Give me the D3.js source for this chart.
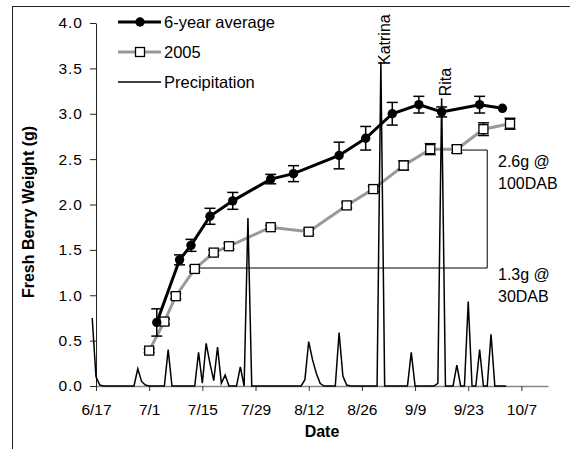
<!DOCTYPE html>
<html>
<head>
<meta charset="utf-8">
<script src="https://cdn.jsdelivr.net/npm/d3@7"></script>
<style>
  body { margin: 0; background: #fff; }
  svg text { font-family: "Liberation Sans", Arial, sans-serif; }
</style>
</head>
<body>
<div id="chart"></div>
<script>
// berry weight, 6-year average (with error bars)
let avgDates = ["2005-07-03","2005-07-09","2005-07-12","2005-07-17","2005-07-23","2005-08-02","2005-08-08",
                "2005-08-20","2005-08-27","2005-09-03","2005-09-10","2005-09-16","2005-09-26","2005-10-02"];
let avgValues = [0.70, 1.39, 1.55, 1.87, 2.04, 2.28, 2.34, 2.54, 2.73, 3.00, 3.10, 3.02, 3.10, 3.06];
let avgErr    = [0.15, 0.055, 0.066, 0.088, 0.093, 0.052, 0.088, 0.147, 0.13, 0.125, 0.092, 0.055, 0.092, 0];

// 2005 season
let y05Dates = ["2005-07-01","2005-07-05","2005-07-08","2005-07-13","2005-07-18","2005-07-22","2005-08-02","2005-08-12",
                "2005-08-22","2005-08-29","2005-09-06","2005-09-13","2005-09-20","2005-09-27","2005-10-04"];
let y05Values = [0.39, 0.71, 0.99, 1.29, 1.47, 1.54, 1.75, 1.70, 1.99, 2.17, 2.43, 2.61, 2.61, 2.83, 2.89];
let y05Err    = [0.02, 0.03, 0.03, 0.03, 0.03, 0.03, 0.02, 0.03, 0.03, 0.03, 0.05, 0.06, 0.04, 0.07, 0.06];

// daily precipitation, one value per day starting 6/16
let precipStart = "2005-06-16";
let precip = [0.75, 0.10, 0.01, 0, 0, 0, 0, 0, 0, 0,
              0, 0, 0.19, 0.05, 0.01, 0, 0, 0, 0, 0,
              0.40, 0, 0, 0, 0, 0, 0, 0, 0.37, 0.03,
              0.47, 0.25, 0.06, 0.43, 0.03, 0.12, 0, 0, 0, 0.21,
              0, 1.85, 0, 0, 0, 0, 0, 0, 0, 0,
              0, 0, 0, 0, 0, 0, 0.07, 0.49, 0.29, 0.14,
              0.03, 0, 0, 0, 0, 0.59, 0.11, 0.01, 0, 0,
              0, 0, 0, 0, 0, 0, 3.57, 0, 0, 0,
              0, 0, 0, 0, 0.37, 0, 0, 0, 0, 0,
              0, 0.03, 3.17, 0, 0, 0, 0.23, 0, 0, 0.93,
              0, 0, 0.40, 0, 0, 0.57, 0, 0, 0, 0];

let stormLabels = [{name: "Katrina", day: 76}, {name: "Rita", day: 92}];

let xTickDates = ["2005-06-17","2005-07-01","2005-07-15","2005-07-29","2005-08-12","2005-08-26","2005-09-09","2005-09-23","2005-10-07"];
let yTicks = [0, 0.5, 1.0, 1.5, 2.0, 2.5, 3.0, 3.5, 4.0];

let width = 570, height = 449;
let margin = ({top: 23, right: 22, bottom: 63, left: 96});

let parse = d3.utcParse("%Y-%m-%d");

let x = d3.scaleUtc()
    .domain([parse("2005-06-17"), parse("2005-10-14")])
    .range([margin.left, width - margin.right]);
let y = d3.scaleLinear()
    .domain([0, 4])
    .range([height - margin.bottom, margin.top]);

let avg = avgDates.map((d, i) => ({date: parse(d), v: avgValues[i], e: avgErr[i]}));
let y05 = y05Dates.map((d, i) => ({date: parse(d), v: y05Values[i], e: y05Err[i]}));
let p0 = parse(precipStart);
let rain = precip.map((v, i) => ({date: d3.utcDay.offset(p0, i), v: v}));

let svg = d3.select("#chart").append("svg")
    .attr("width", width)
    .attr("height", height);

// outer chart frame (cropped)
svg.append("rect")
    .attr("x", 12.5).attr("y", 6.5)
    .attr("width", 620).attr("height", 500)
    .attr("fill", "none").attr("stroke", "#222");

// axes
let xAxis = g => g
    .attr("transform", `translate(0,${y(0)})`)
    .call(d3.axisBottom(x).tickValues(xTickDates.map(parse))
        .tickFormat(d3.utcFormat("%-m/%-d")).tickSize(5).tickSizeOuter(0).tickPadding(13))
    .call(g => g.select(".domain").attr("stroke", "#888").attr("stroke-width", 1.5))
    .call(g => g.selectAll(".tick line").attr("stroke", "#333"))
    .call(g => g.selectAll("text").attr("font-size", 15.5).attr("fill", "#000")
        .style("font-family", "'Liberation Sans', Arial, sans-serif"));

let yAxis = g => g
    .attr("transform", `translate(${margin.left},0)`)
    .call(d3.axisLeft(y).tickValues(yTicks).tickFormat(d3.format(".1f"))
        .tickSize(6).tickSizeOuter(0).tickPadding(7))
    .call(g => g.select(".domain").attr("stroke", "#222"))
    .call(g => g.selectAll(".tick line").attr("stroke", "#222"))
    .call(g => g.selectAll("text").attr("font-size", 15.5).attr("fill", "#000")
        .attr("letter-spacing", 1)
        .style("font-family", "'Liberation Sans', Arial, sans-serif"));

svg.append("g").call(xAxis);
svg.append("g").call(yAxis);

svg.append("text")
    .attr("transform", `translate(${margin.left + (width - margin.right - margin.left) / 2},437)`)
    .attr("text-anchor", "middle")
    .attr("font-size", 16).attr("font-weight", "bold")
    .text("Date");

svg.append("text")
    .attr("transform", `translate(34,212) rotate(-90)`)
    .attr("text-anchor", "middle")
    .attr("font-size", 16).attr("font-weight", "bold")
    .text("Fresh Berry Weight (g)");

let line = d3.line().x(d => x(d.date)).y(d => y(d.v));

function errorBars(data, cap) {
    let g = svg.append("g").attr("stroke", "#000").attr("stroke-width", 1.5);
    data.filter(d => d.e > 0).forEach(d => {
        let cx = x(d.date);
        g.append("line").attr("x1", cx).attr("x2", cx).attr("y1", y(d.v - d.e)).attr("y2", y(d.v + d.e));
        g.append("line").attr("x1", cx - cap).attr("x2", cx + cap).attr("y1", y(d.v + d.e)).attr("y2", y(d.v + d.e));
        g.append("line").attr("x1", cx - cap).attr("x2", cx + cap).attr("y1", y(d.v - d.e)).attr("y2", y(d.v - d.e));
    });
}

// 2005 series
svg.append("path").datum(y05)
    .attr("fill", "none").attr("stroke", "#999").attr("stroke-width", 3)
    .attr("d", line);
errorBars(y05, 5.5);
svg.append("g").selectAll("rect").data(y05).join("rect")
    .attr("x", d => x(d.date) - 4.5).attr("y", d => y(d.v) - 4.5)
    .attr("width", 9).attr("height", 9)
    .attr("fill", "#fff").attr("stroke", "#000").attr("stroke-width", 1.3);

// 6-year average
svg.append("path").datum(avg)
    .attr("fill", "none").attr("stroke", "#000").attr("stroke-width", 3)
    .attr("d", line);
errorBars(avg, 5.5);
svg.append("g").selectAll("circle").data(avg).join("circle")
    .attr("cx", d => x(d.date)).attr("cy", d => y(d.v)).attr("r", 4.7)
    .attr("fill", "#000");

// precipitation
svg.append("path").datum(rain)
    .attr("fill", "none").attr("stroke", "#000").attr("stroke-width", 1.5)
    .attr("stroke-linejoin", "miter")
    .attr("d", line);

stormLabels.forEach(s => {
    let d = rain[s.day];
    svg.append("text")
        .attr("transform", `translate(${x(d.date) + 9},${y(d.v) + (s.name == "Katrina" ? 3 : -2)}) rotate(-90)`)
        .attr("font-size", 16)
        .text(s.name);
});

// bracket annotation 1.3g -> 2.6g
let lowPt = y05[3], highPt = y05[12];
let bracketX = x(parse("2005-09-28"));
svg.append("path")
    .attr("fill", "none").attr("stroke", "#000").attr("stroke-width", 1)
    .attr("d", `M${x(lowPt.date) + 5},${y(1.3)}H${bracketX}V${y(2.6)}H${x(highPt.date) + 5}`);

let notes = [
    {lines: ["2.6g @", "100DAB"], v: 2.6, dy: 11},
    {lines: ["1.3g @", "30DAB"], v: 1.3, dy: 6}
];
notes.forEach(n => {
    let t = svg.append("text").attr("font-size", 16);
    n.lines.forEach((s, i) => {
        t.append("tspan").attr("x", 498).attr("y", y(n.v) + n.dy + 6 + i * 22).text(s);
    });
});

// legend
let legendRows = [
    {label: "6-year average", color: "#000", w: 3, mark: "circle"},
    {label: "2005", color: "#999", w: 3, mark: "square"},
    {label: "Precipitation", color: "#000", w: 1.5, mark: null}
];
let legend = svg.append("g");
legendRows.forEach((r, i) => {
    let ly = 22 + i * 30;
    legend.append("line").attr("x1", 118).attr("x2", 161).attr("y1", ly).attr("y2", ly)
        .attr("stroke", r.color).attr("stroke-width", r.w);
    if (r.mark == "circle") {
        legend.append("circle").attr("cx", 140).attr("cy", ly).attr("r", 4.7).attr("fill", "#000");
    } else if (r.mark == "square") {
        legend.append("rect").attr("x", 135.5).attr("y", ly - 4.5).attr("width", 9).attr("height", 9)
            .attr("fill", "#fff").attr("stroke", "#000").attr("stroke-width", 1.3);
    }
    legend.append("text").attr("x", 164).attr("y", ly).attr("dy", "0.36em")
        .attr("font-size", 16.5).text(r.label);
});
</script>
</body>
</html>
